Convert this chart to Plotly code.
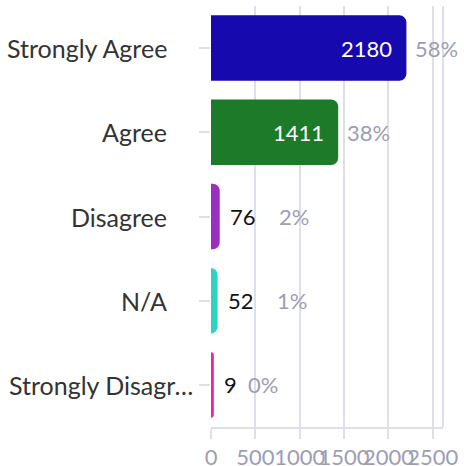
import plotly.graph_objects as go

categories = ["Strongly Agree", "Agree", "Disagree", "N/A", "Strongly Disagree"]
short_labels = ["Strongly Agree", "Agree", "Disagree", "N/A", "Strongly Disagr…"]
counts = [2180, 1411, 76, 52, 9]
percents = ["58%", "38%", "2%", "1%", "0%"]
bar_colors = ["#1609ae", "#1c7a28", "#9b2fc2", "#2ed3c8", "#e8259c"]

FONT = "Lato"
GRID = "#dfdfea"
MUTED = "#9d9db6"
LABEL = "#333333"

fig = go.Figure()
fig.add_trace(
    go.Bar(
        y=categories,
        x=counts,
        orientation="h",
        # same-colour outline keeps tiny bars visible, like the original
        marker=dict(color=bar_colors, line=dict(color=bar_colors, width=4)),
        width=0.73,
        showlegend=False,
        hoverinfo="skip",
    )
)

for cat, lab, n, pct in zip(categories, short_labels, counts, percents):
    # category label to the left of the axis
    truncated = lab.endswith("…")
    fig.add_annotation(
        x=0, xref="paper", y=cat, text=lab, showarrow=False,
        xanchor="left" if truncated else "right",
        xshift=-204 if truncated else -42,
        font=dict(family=FONT, size=25, color=LABEL),
    )
    big = n > 500
    fig.add_annotation(
        x=n, y=cat, text=str(n), showarrow=False,
        xanchor="right" if big else "left",
        xshift=-10 if big else 10,
        font=dict(family=FONT, size=22, color="white" if big else "#111111"),
    )
    pct_shift = 9 if big else 10 + 24.5 * len(str(n))
    fig.add_annotation(
        x=n, y=cat, text=pct, showarrow=False, xanchor="left", xshift=pct_shift,
        font=dict(family=FONT, size=22, color=MUTED),
    )

fig.add_shape(type="line", xref="paper", yref="paper", x0=1, x1=1, y0=0, y1=1,
              line=dict(color=GRID, width=2))

fig.update_layout(
    width=464,
    height=466,
    margin=dict(l=211, r=21, t=6, b=39, autoexpand=False),
    paper_bgcolor="white",
    plot_bgcolor="white",
    barcornerradius=5,
    font=dict(family=FONT, size=18, color=LABEL),
    xaxis=dict(
        range=[0, 2615],
        tickvals=[0, 500, 1000, 1500, 2000, 2500],
        tickangle=0,
        showgrid=True,
        gridcolor=GRID,
        gridwidth=2,
        zeroline=False,
        showline=True,
        linecolor=GRID,
        linewidth=2,
        ticks="outside",
        ticklen=10,
        tickwidth=2,
        tickcolor=GRID,
        tickfont=dict(family=FONT, size=22, color=MUTED),
        automargin=False,
        fixedrange=True,
    ),
    yaxis=dict(
        autorange="reversed",
        ticks="outside",
        ticklen=11,
        tickcolor=GRID,
        tickwidth=2,
        showgrid=False,
        showticklabels=False,
        automargin=False,
        fixedrange=True,
    ),
)

fig.write_html(
    "out.html",
    config={"displayModeBar": False},
    post_script="document.body.style.margin='0';",
)
